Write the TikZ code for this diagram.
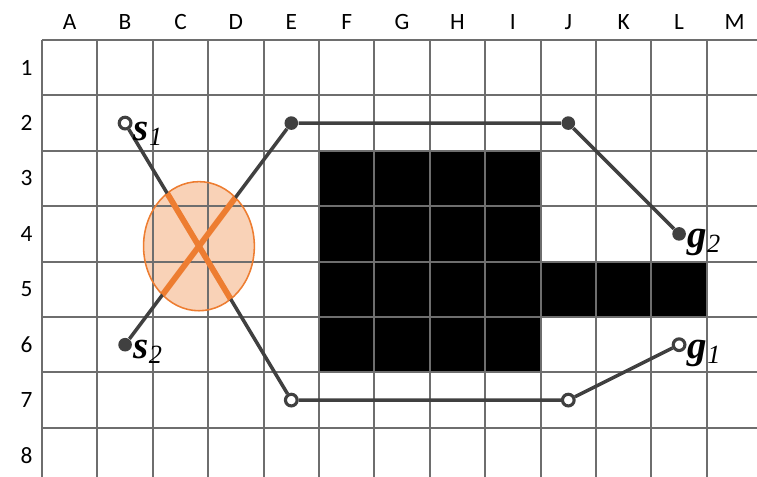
\documentclass[tikz,border=0pt]{standalone}
\usepackage{fontspec}
\setmainfont{Liberation Serif}
\newfontfamily\gridfont{Carlito}
\usetikzlibrary{positioning}
\definecolor{cgrid}{HTML}{6E6E6E}
\definecolor{croute}{HTML}{404040}
\definecolor{cconflict}{HTML}{ED7D31}
\definecolor{cobstacle}{HTML}{000000}
\newcommand{\agentname}[2]{{\bfseries\itshape #1}\raisebox{-2.5pt}{\fontsize{13.5}{13.5}\selectfont\itshape #2}}

\begin{document}
\begin{tikzpicture}[
    gridline/.style={cgrid, line width=1.1pt},
    axislabel/.style={font=\gridfont\fontsize{12}{12}\selectfont, text=black},
    route/.style={croute, line width=1.8pt},
    opendot/.style={circle, draw=croute, line width=1.6pt, fill=white,
        minimum size=6pt, inner sep=0pt},
    fulldot/.style={circle, fill=croute, minimum size=7pt, inner sep=0pt},
    agentlabel/.style={font=\fontsize{20}{20}\selectfont, inner sep=0pt, anchor=base west},
    conflict/.style={cconflict, line width=3pt},
]

\clip (-0.758,0.722) rectangle (12.906,-7.888);

% ============================================================
% OBSTACLES
% ============================================================
\fill[cobstacle] (5,-2) rectangle (9,-6);
\fill[cobstacle] (9,-4) rectangle (12,-5);

% conflict zone
\fill[cconflict, fill opacity=0.35] (2.833,-3.722) ellipse (1.0 and 1.165);

% ============================================================
% GRID
% ============================================================
\draw[gridline] (0,0) grid (13,-8);

\foreach \c [count=\i] in {A,B,C,D,E,F,G,H,I,J,K,L,M} {
    \node[axislabel] (col\c) at (\i-0.5,0.33) {\c};
}
\foreach \r in {1,...,8} {
    \node[axislabel] (row\r) at (-0.28,0.5-\r) {\r};
}

\draw[cconflict, line width=0.8pt] (2.833,-3.722) ellipse (1.0 and 1.165);

% ============================================================
% AGENTS
% ============================================================
\node[opendot] (s1) at (1.5,-1.5) {};
\node[opendot] (e7) at (4.5,-6.5) {};
\node[opendot] (j7) at (9.5,-6.5) {};
\node[opendot] (g1) at (11.5,-5.5) {};

\node[fulldot] (s2) at (1.5,-5.5) {};
\node[fulldot] (e2) at (4.5,-1.5) {};
\node[fulldot] (j2) at (9.5,-1.5) {};
\node[fulldot] (g2) at (11.5,-3.5) {};

\draw[route] (s1) -- (e7) -- (j7) -- (g1);
\draw[route] (s2) -- (e2) -- (j2) -- (g2);

% collision segments
\begin{scope}
    \clip (2.833,-3.722) ellipse (1.0 and 1.165);
    \draw[conflict] (s1.center) -- (e7.center);
    \draw[conflict] (s2.center) -- (e2.center);
\end{scope}

\node[agentlabel] (s1lab) at ([xshift=0.5pt,yshift=-9pt]s1.east) {\agentname{s}{1}};
\node[agentlabel] (s2lab) at ([xshift=0.5pt,yshift=-7pt]s2.east) {\agentname{s}{2}};
\node[agentlabel] (g1lab) at ([xshift=0.5pt,yshift=-7pt]g1.east) {\agentname{g}{1}};
\node[agentlabel] (g2lab) at ([xshift=0.5pt,yshift=-7pt]g2.east) {\agentname{g}{2}};

\end{tikzpicture}
\end{document}
